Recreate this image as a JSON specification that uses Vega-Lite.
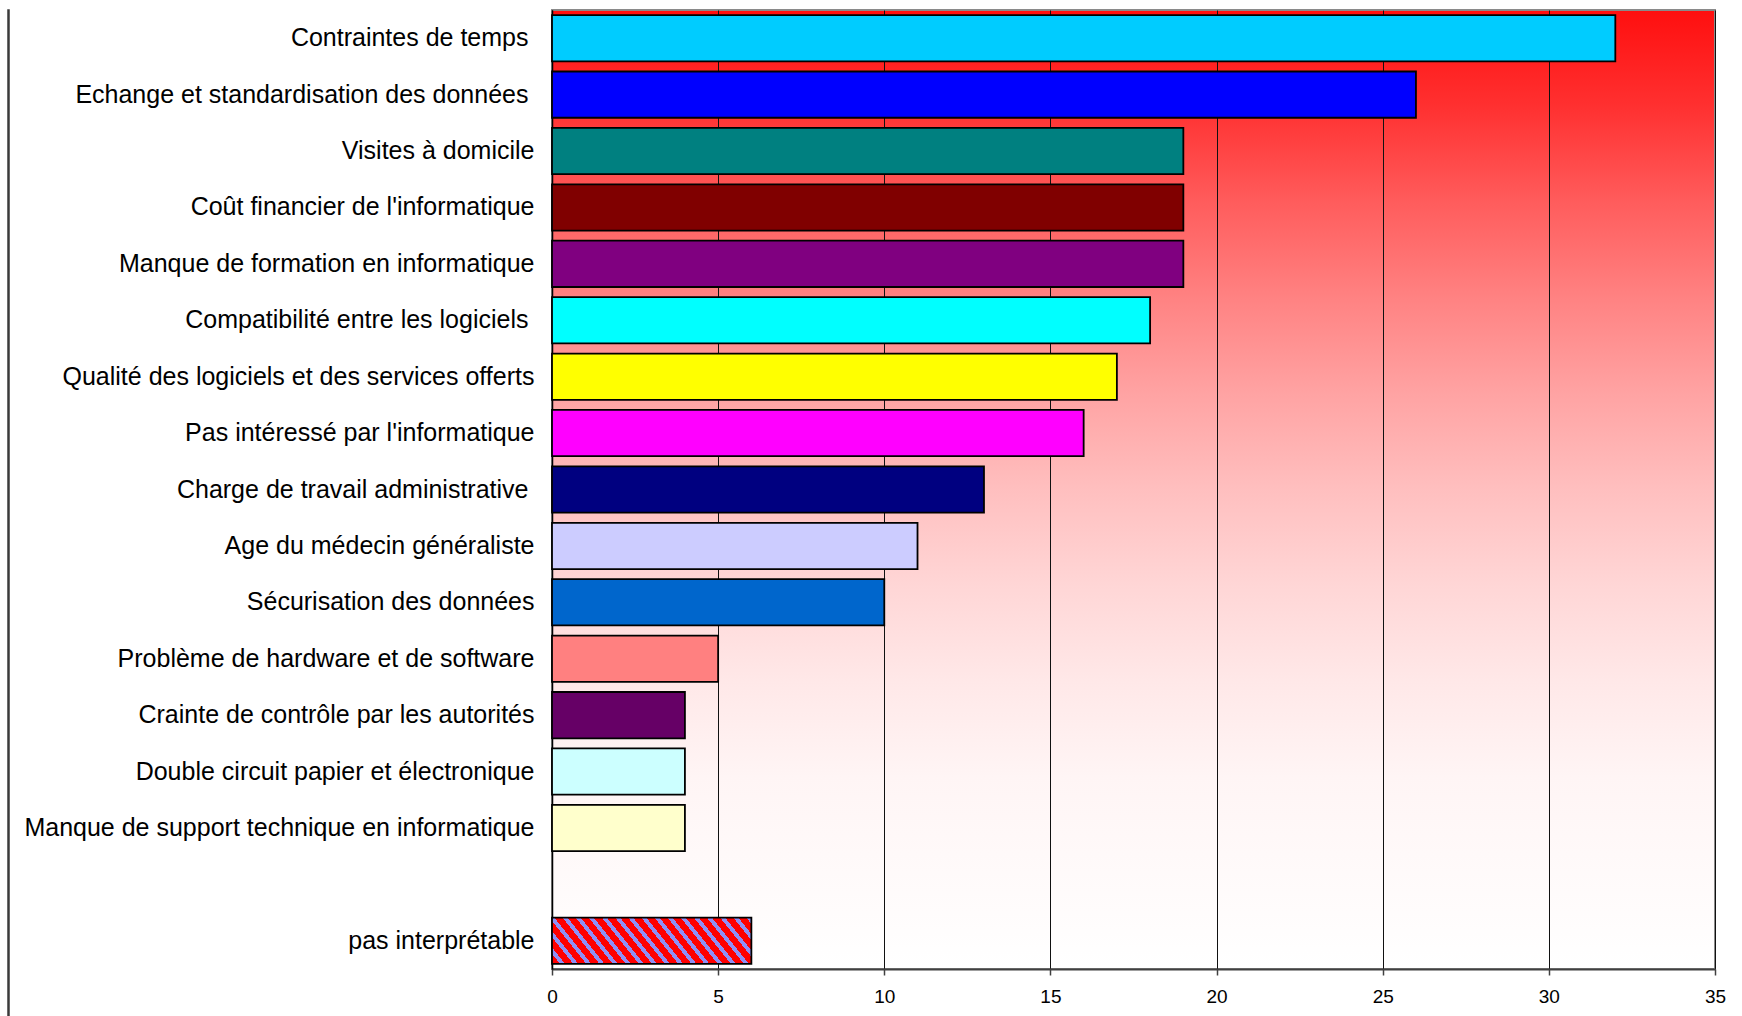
{
  "$schema": "https://vega.github.io/schema/vega-lite/v6.json",
  "padding": {"left": 7, "top": 9, "right": 0, "bottom": 0},
  "bounds": "flush",
  "spacing": 543,
  "background": "#ffffff",
  "config": {
    "font": "Liberation Sans",
    "view": {"stroke": null}
  },
  "hconcat": [
    {
      "width": 1,
      "height": 1007,
      "view": {"stroke": "#3a3a3a", "strokeWidth": 1.5, "fill": null},
      "data": {"values": []},
      "mark": "point",
      "encoding": {}
    },
    {
      "width": 1163,
      "height": 959,
      "view": {
        "stroke": "#8a8a8a",
        "strokeWidth": 2,
        "fill": {
          "gradient": "linear",
          "x1": 0, "y1": 0, "x2": 0, "y2": 1,
          "stops": [
            {"offset": 0, "color": "#ff0f0f"},
            {"offset": 0.1, "color": "#ff3030"},
            {"offset": 0.2, "color": "#ff5c5c"},
            {"offset": 0.3, "color": "#ff8282"},
            {"offset": 0.4, "color": "#ffa3a3"},
            {"offset": 0.5, "color": "#ffbfbf"},
            {"offset": 0.6, "color": "#ffd6d6"},
            {"offset": 0.7, "color": "#ffe8e8"},
            {"offset": 0.8, "color": "#fff5f5"},
            {"offset": 1, "color": "#ffffff"}
          ]
        }
      },
      "data": {
        "values": [
          {"label": "Contraintes de temps", "value": 32},
          {"label": "Echange et standardisation des données", "value": 26},
          {"label": "Visites à domicile", "value": 19},
          {"label": "Coût financier de l'informatique", "value": 19},
          {"label": "Manque de formation en informatique", "value": 19},
          {"label": "Compatibilité entre les logiciels", "value": 18},
          {"label": "Qualité des logiciels et des services offerts", "value": 17},
          {"label": "Pas intéressé par l'informatique", "value": 16},
          {"label": "Charge de travail administrative", "value": 13},
          {"label": "Age du médecin généraliste", "value": 11},
          {"label": "Sécurisation des données", "value": 10},
          {"label": "Problème de hardware et de software", "value": 5},
          {"label": "Crainte de contrôle par les autorités", "value": 4},
          {"label": "Double circuit papier et électronique", "value": 4},
          {"label": "Manque de support technique en informatique", "value": 4},
          {"label": "pas interprétable", "value": 6}
        ]
      },
      "encoding": {
        "y": {
          "field": "label",
          "type": "nominal",
          "sort": null,
          "scale": {
            "domain": [
              "Contraintes de temps",
              "Echange et standardisation des données",
              "Visites à domicile",
              "Coût financier de l'informatique",
              "Manque de formation en informatique",
              "Compatibilité entre les logiciels",
              "Qualité des logiciels et des services offerts",
              "Pas intéressé par l'informatique",
              "Charge de travail administrative",
              "Age du médecin généraliste",
              "Sécurisation des données",
              "Problème de hardware et de software",
              "Crainte de contrôle par les autorités",
              "Double circuit papier et électronique",
              "Manque de support technique en informatique",
              " ",
              "pas interprétable"
            ],
            "paddingInner": 0.18,
            "paddingOuter": 0.09
          },
          "axis": {
            "title": null,
            "domain": true,
            "domainColor": "#000000",
            "domainWidth": 1.5,
            "ticks": false,
            "tickSize": 0,
            "grid": false,
            "labelFont": "Liberation Sans",
            "labelFontSize": 25,
            "labelColor": "#000000",
            "labelPadding": {
              "condition": {
                "test": "indexof(['Contraintes de temps', 'Echange et standardisation des données', 'Compatibilité entre les logiciels', 'Charge de travail administrative'], datum.value) >= 0",
                "value": 24
              },
              "value": 18
            },
            "labelLimit": 1000
          }
        },
        "x": {
          "field": "value",
          "type": "quantitative",
          "scale": {"domain": [0, 35], "nice": false, "zero": true},
          "axis": {
            "title": null,
            "values": [0, 5, 10, 15, 20, 25, 30, 35],
            "domain": true,
            "domainColor": "#404040",
            "domainWidth": 2,
            "ticks": true,
            "tickColor": "#404040",
            "tickSize": 6,
            "tickWidth": 1.5,
            "grid": true,
            "gridColor": "#111111",
            "gridWidth": 1,
            "gridOpacity": 1,
            "labelFont": "Liberation Sans",
            "labelFontSize": 19,
            "labelColor": "#000000",
            "labelPadding": 12,
            "labelFlush": false
          }
        }
      },
      "layer": [
        {
          "transform": [{"filter": {"not": {"field": "label", "equal": "pas interprétable"}}}],
          "mark": {"type": "bar", "stroke": "#000000", "strokeWidth": 1.8, "opacity": 1},
          "encoding": {
            "color": {
              "field": "label",
              "type": "nominal",
              "legend": null,
              "scale": {
                "domain": [
                  "Contraintes de temps",
                  "Echange et standardisation des données",
                  "Visites à domicile",
                  "Coût financier de l'informatique",
                  "Manque de formation en informatique",
                  "Compatibilité entre les logiciels",
                  "Qualité des logiciels et des services offerts",
                  "Pas intéressé par l'informatique",
                  "Charge de travail administrative",
                  "Age du médecin généraliste",
                  "Sécurisation des données",
                  "Problème de hardware et de software",
                  "Crainte de contrôle par les autorités",
                  "Double circuit papier et électronique",
                  "Manque de support technique en informatique"
                ],
                "range": [
                  "#00ccff", "#0000ff", "#008080", "#800000", "#800080",
                  "#00ffff", "#ffff00", "#ff00ff", "#000080", "#ccccff",
                  "#0066cc", "#ff8080", "#660066", "#ccffff", "#ffffcc"
                ]
              }
            }
          }
        },
        {
          "transform": [{"filter": {"field": "label", "equal": "pas interprétable"}}],
          "mark": {
            "type": "bar",
            "stroke": "#000000",
            "strokeWidth": 1.8,
            "opacity": 1,
            "fill": {
              "gradient": "linear",
              "x1": 0, "y1": 1, "x2": 1.1462, "y2": 0.7872,
              "stops": [
                {"offset": 0, "color": "#ff0000"}, {"offset": 0.03444, "color": "#ff0000"}, {"offset": 0.03444, "color": "#8f8ff5"}, {"offset": 0.05556, "color": "#8f8ff5"},
                {"offset": 0.05556, "color": "#ff0000"}, {"offset": 0.09, "color": "#ff0000"}, {"offset": 0.09, "color": "#8f8ff5"}, {"offset": 0.11111, "color": "#8f8ff5"},
                {"offset": 0.11111, "color": "#ff0000"}, {"offset": 0.14556, "color": "#ff0000"}, {"offset": 0.14556, "color": "#8f8ff5"}, {"offset": 0.16667, "color": "#8f8ff5"},
                {"offset": 0.16667, "color": "#ff0000"}, {"offset": 0.20111, "color": "#ff0000"}, {"offset": 0.20111, "color": "#8f8ff5"}, {"offset": 0.22222, "color": "#8f8ff5"},
                {"offset": 0.22222, "color": "#ff0000"}, {"offset": 0.25667, "color": "#ff0000"}, {"offset": 0.25667, "color": "#8f8ff5"}, {"offset": 0.27778, "color": "#8f8ff5"},
                {"offset": 0.27778, "color": "#ff0000"}, {"offset": 0.31222, "color": "#ff0000"}, {"offset": 0.31222, "color": "#8f8ff5"}, {"offset": 0.33333, "color": "#8f8ff5"},
                {"offset": 0.33333, "color": "#ff0000"}, {"offset": 0.36778, "color": "#ff0000"}, {"offset": 0.36778, "color": "#8f8ff5"}, {"offset": 0.38889, "color": "#8f8ff5"},
                {"offset": 0.38889, "color": "#ff0000"}, {"offset": 0.42333, "color": "#ff0000"}, {"offset": 0.42333, "color": "#8f8ff5"}, {"offset": 0.44444, "color": "#8f8ff5"},
                {"offset": 0.44444, "color": "#ff0000"}, {"offset": 0.47889, "color": "#ff0000"}, {"offset": 0.47889, "color": "#8f8ff5"}, {"offset": 0.5, "color": "#8f8ff5"},
                {"offset": 0.5, "color": "#ff0000"}, {"offset": 0.53444, "color": "#ff0000"}, {"offset": 0.53444, "color": "#8f8ff5"}, {"offset": 0.55556, "color": "#8f8ff5"},
                {"offset": 0.55556, "color": "#ff0000"}, {"offset": 0.59, "color": "#ff0000"}, {"offset": 0.59, "color": "#8f8ff5"}, {"offset": 0.61111, "color": "#8f8ff5"},
                {"offset": 0.61111, "color": "#ff0000"}, {"offset": 0.64556, "color": "#ff0000"}, {"offset": 0.64556, "color": "#8f8ff5"}, {"offset": 0.66667, "color": "#8f8ff5"},
                {"offset": 0.66667, "color": "#ff0000"}, {"offset": 0.70111, "color": "#ff0000"}, {"offset": 0.70111, "color": "#8f8ff5"}, {"offset": 0.72222, "color": "#8f8ff5"},
                {"offset": 0.72222, "color": "#ff0000"}, {"offset": 0.75667, "color": "#ff0000"}, {"offset": 0.75667, "color": "#8f8ff5"}, {"offset": 0.77778, "color": "#8f8ff5"},
                {"offset": 0.77778, "color": "#ff0000"}, {"offset": 0.81222, "color": "#ff0000"}, {"offset": 0.81222, "color": "#8f8ff5"}, {"offset": 0.83333, "color": "#8f8ff5"},
                {"offset": 0.83333, "color": "#ff0000"}, {"offset": 0.86778, "color": "#ff0000"}, {"offset": 0.86778, "color": "#8f8ff5"}, {"offset": 0.88889, "color": "#8f8ff5"},
                {"offset": 0.88889, "color": "#ff0000"}, {"offset": 0.92333, "color": "#ff0000"}, {"offset": 0.92333, "color": "#8f8ff5"}, {"offset": 0.94444, "color": "#8f8ff5"},
                {"offset": 0.94444, "color": "#ff0000"}, {"offset": 0.97889, "color": "#ff0000"}, {"offset": 0.97889, "color": "#8f8ff5"}, {"offset": 1, "color": "#8f8ff5"}
              ]
            }
          }
        }
      ]
    }
  ]
}
